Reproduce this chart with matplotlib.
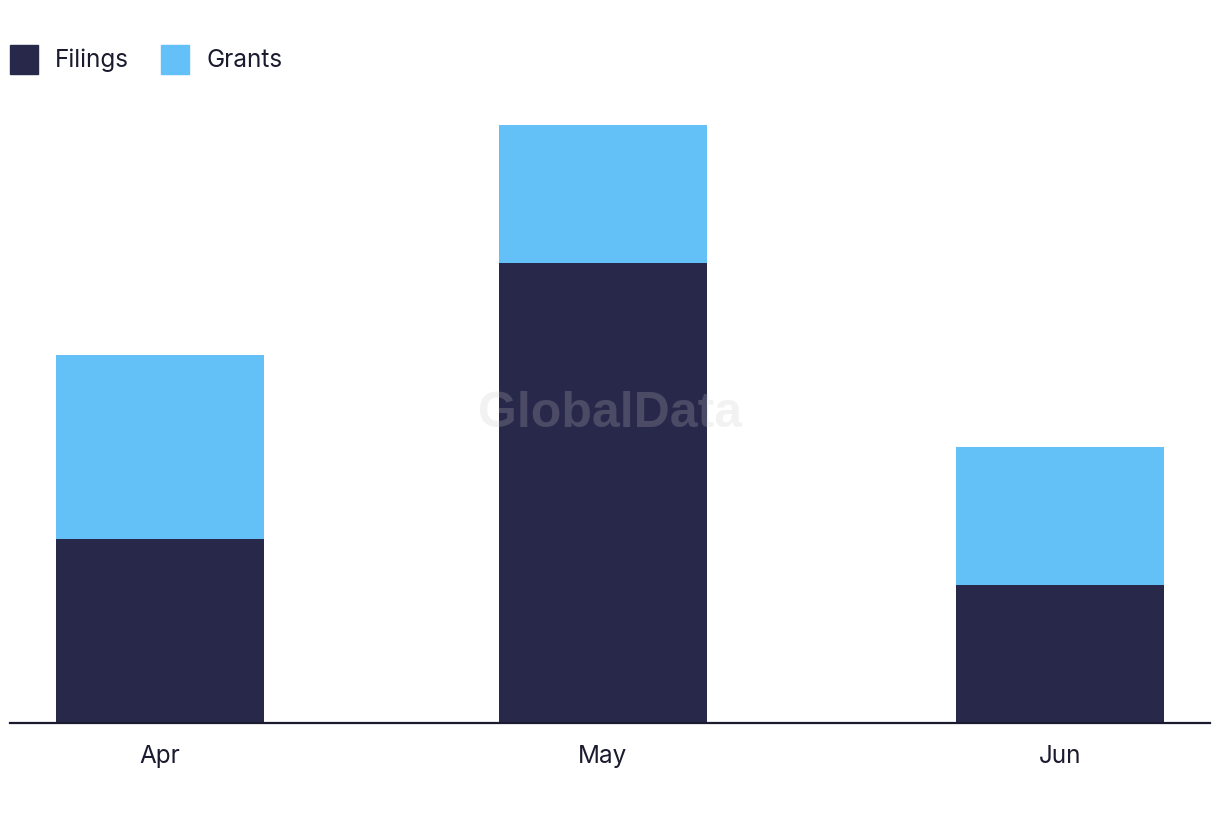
import numpy as np
import matplotlib
matplotlib.use("Agg")
from matplotlib import pyplot as plt
from matplotlib.patches import Patch

# data
months = ["Apr", "May", "Jun"]
day_offset = [0, 30, 61]      # bars sit on a date axis, so the gaps are uneven
filings = [4, 10, 3]
grants = [4, 3, 3]

navy = "#28284b"
blue = "#63c1f8"
ink = "#1b1b2f"

plt.rcParams["font.family"] = ["Inter", "DejaVu Sans"]

fig = plt.figure(figsize=(12.2, 8.22), dpi=100)
ax = fig.add_axes([10 / 1220, 99 / 822, 1200 / 1220, 628 / 822])

x = np.array(day_offset, dtype=float)
width = 14.1
ax.bar(x, filings, width=width, color=navy, label="Filings")
ax.bar(x, grants, width=width, bottom=filings, color=blue, label="Grants")

ax.set_xlim(-10.17, 71.17)
ax.set_ylim(0, 13.65)
ax.set_xticks(x)
ax.set_xticklabels(months, fontsize=17.5, color=ink)
ax.tick_params(axis="x", length=0, pad=16)
ax.set_yticks([])
for side in ["top", "right", "left"]:
    ax.spines[side].set_visible(False)
ax.spines["bottom"].set_color(ink)
ax.spines["bottom"].set_linewidth(1.6)

# watermark
fig.text(610 / 1220, 1 - 414 / 822, "GlobalData", ha="center", va="center",
         fontsize=36, fontweight="bold", family="Liberation Sans",
         color="#c8c8c8", alpha=0.22)

handles = [Patch(color=navy, label="Filings"), Patch(color=blue, label="Grants")]
leg = fig.legend(handles=handles, loc="upper left", bbox_to_anchor=(10 / 1220, 1 - 45 / 822),
                 ncol=2, frameon=False, fontsize=17.5, handlelength=1.15, handleheight=1.45,
                 handletextpad=0.7, columnspacing=1.32, borderpad=0, borderaxespad=0)
for t in leg.get_texts():
    t.set_color(ink)

fig.savefig("out.png", dpi=100)
